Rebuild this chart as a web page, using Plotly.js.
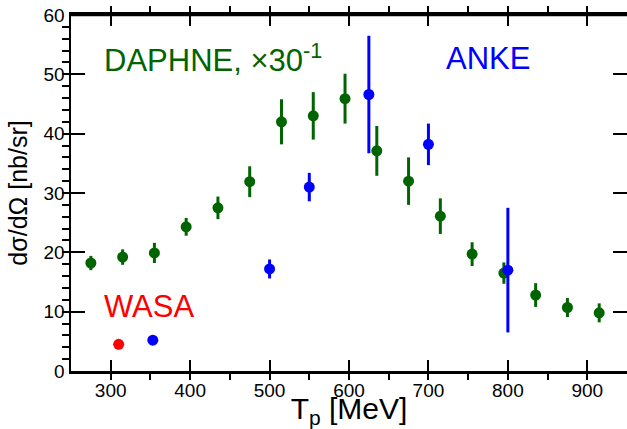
<!DOCTYPE html>
<html>
<head>
<meta charset="utf-8">
<script src="https://cdn.plot.ly/plotly-3.0.1.min.js"></script>
<style>html,body{margin:0;padding:0;background:#fff;}#plot{width:627px;height:429px;}</style>
</head>
<body>
<div id="plot"></div>
<script>
// DAPHNE (scaled x 1/30)
var daphneT = [275,315,355,395,435,475,515,555,595,635,675,715,755,795,835,875,915];
var daphneY = [18.2,19.2,19.9,24.3,27.5,31.9,42.0,43.0,45.9,37.1,32.0,26.1,19.7,16.5,12.8,10.7,9.8];
var daphneErr = [1.2,1.3,1.7,1.5,1.9,2.6,3.8,4.0,4.2,4.2,4.0,3.0,2.0,1.8,2.0,1.6,1.6];
// ANKE
var ankeT = [353,500,550,625,700,800];
var ankeY = [5.2,17.2,31.0,46.6,38.2,17.0];
var ankeErr = [0.4,1.6,2.4,9.9,3.5,10.5];
// WASA
var wasaT = [310];
var wasaY = [4.5];
var wasaErr = [0.5];

var green = '#006400', blue = '#0000ff', red = '#ff0000';
var font = 'Liberation Sans, Arial, Helvetica, sans-serif';

function series(x, y, e, c, s) {
  return {
    x: x, y: y, type: 'scatter', mode: 'markers',
    marker: {color: c, size: s},
    error_y: {type: 'data', array: e, visible: true, width: 0, thickness: 3, color: c},
    showlegend: false, hoverinfo: 'skip', cliponaxis: false
  };
}

var traces = [
  series(daphneT, daphneY, daphneErr, green, 11),
  series(wasaT, wasaY, wasaErr, red, 11),
  series(ankeT, ankeY, ankeErr, blue, 11)
];

var layout = {
  width: 627, height: 429,
  margin: {l: 71, r: 0, t: 15, b: 58},
  paper_bgcolor: '#fff', plot_bgcolor: '#fff',
  font: {family: font, color: '#000'},
  xaxis: {
    range: [250, 950], tick0: 0, dtick: 100, ticklen: 11,
    ticks: 'inside', tickwidth: 2, tickcolor: '#000',
    minor: {dtick: 50, ticklen: 6, tickwidth: 2, tickcolor: '#000'},
    showline: true, linewidth: 3, linecolor: '#000', mirror: 'ticks',
    showgrid: false, zeroline: false,
    tickfont: {size: 19, family: font},
    title: {text: 'T<sub>p</sub> [MeV]', font: {size: 30, family: font}, standoff: 8}
  },
  yaxis: {
    range: [0, 60], tick0: 0, dtick: 10, ticklen: 14,
    ticks: 'inside', tickwidth: 2, tickcolor: '#000',
    minor: {dtick: 2, ticklen: 7, tickwidth: 2, tickcolor: '#000'},
    showline: true, linewidth: 2.5, linecolor: '#000', mirror: 'ticks',
    showgrid: false, zeroline: false,
    tickfont: {size: 19, family: font},
    title: {text: 'dσ/dΩ [nb/sr]', font: {size: 25, family: font}, standoff: 9}
  },
  shapes: [
    {type: 'line', xref: 'paper', yref: 'paper', x0: 0, x1: 1, y0: 1, y1: 1, line: {color: '#000', width: 2.5}}
  ],
  annotations: [
    {x: 289, y: 52.7, xref: 'x', yref: 'y', xanchor: 'left', yanchor: 'middle', showarrow: false,
     text: 'DAPHNE, ×30<sup>-1</sup>', font: {size: 31, color: green, family: font}},
    {x: 719, y: 52.7, xref: 'x', yref: 'y', xanchor: 'left', yanchor: 'middle', showarrow: false,
     text: 'ANKE', font: {size: 31, color: blue, family: font}},
    {x: 289, y: 10.9, xref: 'x', yref: 'y', xanchor: 'left', yanchor: 'middle', showarrow: false,
     text: 'WASA', font: {size: 31, color: red, family: font}}
  ]
};

Plotly.newPlot('plot', traces, layout, {displayModeBar: false, staticPlot: true});
</script>
</body>
</html>
